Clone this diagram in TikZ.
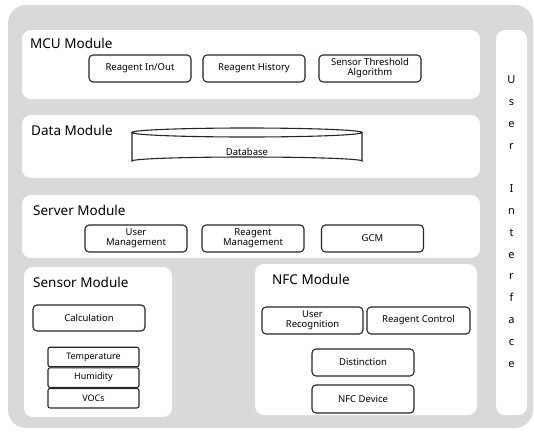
\documentclass[tikz,border=0pt]{standalone}
\usepackage{fontspec}
\setmainfont{Noto Sans}
\usetikzlibrary{positioning}
\definecolor{bggray}{RGB}{217,217,217}
\begin{document}
\begin{tikzpicture}[x=1pt,y=-1pt,
    panel/.style={fill=white,rounded corners=9pt},
    title/.style={anchor=west,inner sep=0pt,font=\fontsize{13.5}{14}\selectfont},
    unit/.style={draw=black!85,line width=1.1pt,rounded corners=4pt,fill=white,
      align=center,inner sep=0pt,minimum width=102pt,minimum height=27pt,
      font=\fontsize{9.5}{10}\selectfont},
    layer/.style={draw=black!85,line width=1.1pt,rounded corners=2pt,fill=white,
      inner sep=0pt,minimum width=91pt,minimum height=19.5pt,
      font=\fontsize{9}{10}\selectfont}]
  \useasboundingbox (0,0) rectangle (534,431);
  \fill[bggray,rounded corners=18pt] (8,5) rectangle (533,428);

  % modules
  \fill[panel] (22,30) rectangle (480,99);
  \fill[panel] (22,115) rectangle (480,178);
  \fill[panel] (22,195) rectangle (480,258);
  \fill[panel] (24,267) rectangle (172,417);
  \fill[panel] (255,264) rectangle (477,415);
  \fill[panel] (496,30) rectangle (527,415);

  \node[title] (mcu) at (30,43) {MCU Module};
  \node[title] (data) at (31,130) {Data Module};
  \node[title] (server) at (33,210) {Server Module};
  \node[title] (sensor) at (33,282) {Sensor Module};
  \node[title] (nfc) at (272,279) {NFC Module};

  % MCU
  \node[unit] (inout) at (140,68.5) {Reagent In/Out};
  \node[unit] (history) at (254,68.5) {Reagent History};
  \node[unit] (algo) at (370,68.5) {Sensor Threshold\\Algorithm};

  % database
  \draw[line width=1.1pt,black!85,fill=white] (132,132.5) -- (132,161)
    arc[start angle=180,end angle=360,x radius=115,y radius=4] -- (362,132.5);
  \draw[line width=1.1pt,black!85] (247,132.5) ellipse[x radius=115,y radius=4.5];
  \node[font=\fontsize{9.5}{10}\selectfont] (db) at (247,152) {Database};

  % server
  \node[unit] (usermgmt) at (136,238.5) {User\\Management};
  \node[unit] (reagmgmt) at (253,238.5) {Reagent\\Management};
  \node[unit] (gcm) at (372.5,238.5) {GCM};

  % sensor
  \node[unit,minimum width=112pt,minimum height=26pt] (calc) at (89,318) {Calculation};
  \node[layer] (temp) at (93.5,357) {Temperature};
  \node[layer,below=0pt of temp] (humid) {Humidity};
  \node[layer,below=0pt of humid] (vocs) {VOCs};

  % NFC
  \node[unit,minimum width=101pt] (userrec) at (312.5,320.5) {User\\Recognition};
  \node[unit,minimum width=103pt] (control) at (418.5,320.5) {Reagent Control};
  \node[unit] (dist) at (363,362.5) {Distinction};
  \node[unit,minimum height=28pt] (device) at (363,399) {NFC Device};

  % user interface
  \node[align=center,inner sep=0pt,font=\fontsize{11}{21.8}\selectfont] (ui) at (511.5,221.5)
    {U\\s\\e\\r\\~\\I\\n\\t\\e\\r\\f\\a\\c\\e};
\end{tikzpicture}
\end{document}
